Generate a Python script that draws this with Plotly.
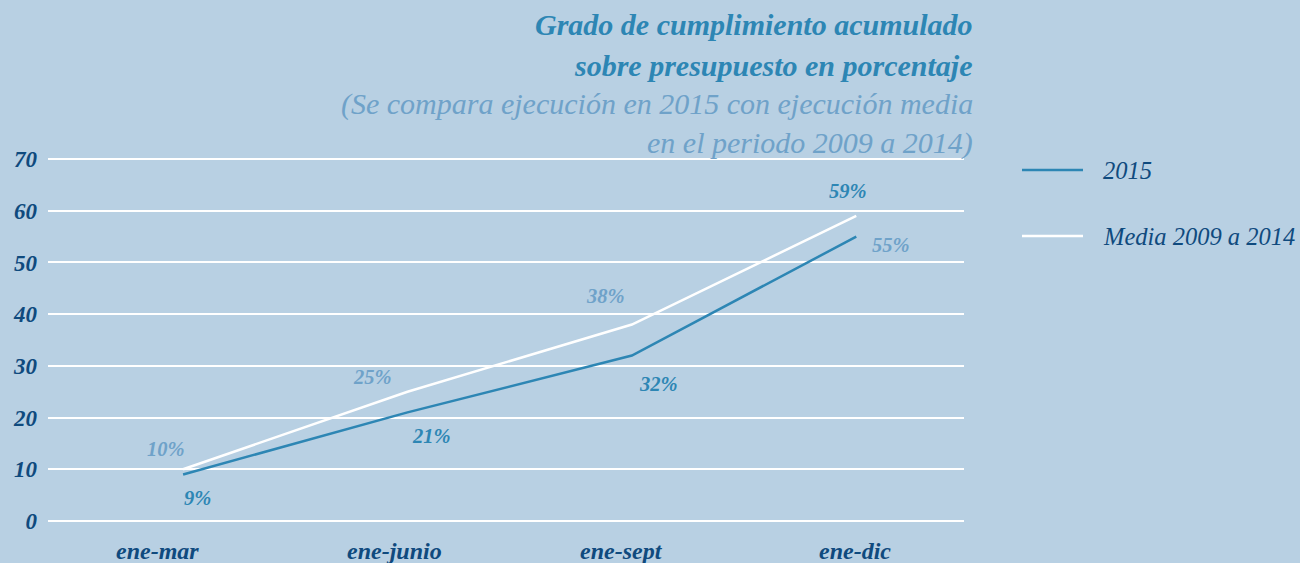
import plotly.graph_objects as go

# Data
periods = ["ene-mar", "ene-junio", "ene-sept", "ene-dic"]
series_names = ["2015", "Media 2009 a 2014"]
values_2015 = [9, 21, 32, 55]
values_media = [10, 25, 38, 59]
y_ticks = [0, 10, 20, 30, 40, 50, 60, 70]

BG = "#b8d0e3"
BLUE = "#2d86b4"
LIGHT = "#6fa2c9"
NAVY = "#0f4a7e"
FONT = "Liberation Serif"

W, H = 1300, 563
L, R, T, B = 48, 336, 157, 42
PW, PH = W - L - R, H - T - B
Y_MAX = 70.4


def px_x(x):
    return (x - L) / PW


def px_y(y):
    return 1 - (y - T) / PH


fig = go.Figure()
fig.add_trace(go.Scatter(x=periods, y=values_media, mode="lines", name=series_names[1],
                         line=dict(color="white", width=2.5), showlegend=False))
fig.add_trace(go.Scatter(x=periods, y=values_2015, mode="lines", name=series_names[0],
                         line=dict(color=BLUE, width=2.5), showlegend=False))

annotations = []

# Value labels
lab_2015_style = [(14, -24, BLUE), (24, -24, BLUE), (27, -28, BLUE), (35, -8, LIGHT)]
lab_media_style = [(-17, 20, LIGHT), (-35, 15, LIGHT), (-26, 29, LIGHT), (-8, 25, BLUE)]
for vals, styles in ((values_2015, lab_2015_style), (values_media, lab_media_style)):
    for p, v, (dx, dy, col) in zip(periods, vals, styles):
        annotations.append(dict(x=p, y=v, xref="x", yref="y", text=f"<b><i>{v}%</i></b>",
                                showarrow=False, xshift=dx, yshift=dy,
                                font=dict(family=FONT, size=20.5, color=col)))

# Category labels under the axis
cat_shift = [-26, -13, -10, -1]
for p, dx in zip(periods, cat_shift):
    annotations.append(dict(x=p, y=px_y(551), xref="x", yref="paper", text=f"<b><i>{p}</i></b>",
                            showarrow=False, xshift=dx, yanchor="middle",
                            font=dict(family=FONT, size=24, color=NAVY)))

# Title block
title_lines = [
    ("<b><i>Grado de cumplimiento acumulado</i></b>", BLUE, 25),
    ("<b><i>sobre presupuesto en porcentaje</i></b>", BLUE, 65),
    ("<i>(Se compara ejecución en 2015 con ejecución media</i>", LIGHT, 104),
    ("<i>en el periodo 2009 a 2014)</i>", LIGHT, 143),
]
for txt, col, yp in title_lines:
    annotations.append(dict(x=px_x(975), y=px_y(yp), xref="paper", yref="paper", text=txt,
                            showarrow=False, xanchor="right", yanchor="middle",
                            font=dict(family=FONT, size=30, color=col)))

# Legend
shapes = []
for name, col, yp in ((series_names[0], BLUE, 170), (series_names[1], "white", 236)):
    shapes.append(dict(type="line", xref="paper", yref="paper",
                       x0=px_x(1022), x1=px_x(1083), y0=px_y(yp), y1=px_y(yp),
                       line=dict(color=col, width=2.5)))
    annotations.append(dict(x=px_x(1101), y=px_y(yp), xref="paper", yref="paper",
                            text=f"<i>{name}</i>", showarrow=False, xanchor="left",
                            yanchor="middle", font=dict(family=FONT, size=24.5, color=NAVY)))

fig.update_layout(
    width=W, height=H,
    margin=dict(l=L, r=R, t=T, b=B, autoexpand=False),
    paper_bgcolor=BG, plot_bgcolor=BG,
    annotations=annotations, shapes=shapes,
    xaxis=dict(range=[-0.602, 3.48], showgrid=False, zeroline=False, showline=False,
               ticks="", showticklabels=False, automargin=False),
    yaxis=dict(range=[0, Y_MAX], tickvals=y_ticks,
               ticktext=[f"<b><i>{t}</i></b>" for t in y_ticks],
               showgrid=True, gridcolor="white", gridwidth=1.5,
               zeroline=True, zerolinecolor="white", zerolinewidth=1.5,
               showline=False, ticks="", ticklabelstandoff=10, automargin=False,
               tickfont=dict(family=FONT, size=23, color=NAVY)),
)

fig.write_html("out.html")
